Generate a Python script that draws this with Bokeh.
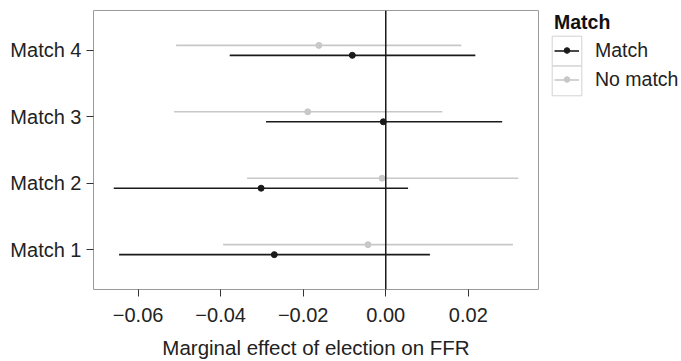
from bokeh.plotting import figure
from bokeh.layouts import row
from bokeh.models import (ColumnDataSource, Range1d, FixedTicker, CustomJSTickFormatter,
                          Span, Legend, LegendItem)
from bokeh.transform import dodge
from bokeh.embed import file_html
from bokeh.resources import INLINE

# ---- data ----
categories = ["Match 1", "Match 2", "Match 3", "Match 4"]
match_est = [-0.0270, -0.0302, -0.0006, -0.0081]
match_lo = [-0.0646, -0.0659, -0.0290, -0.0378]
match_hi = [0.0107, 0.0054, 0.0282, 0.0217]
nomatch_est = [-0.0043, -0.0009, -0.0189, -0.0162]
nomatch_lo = [-0.0394, -0.0336, -0.0513, -0.0508]
nomatch_hi = [0.0308, 0.0321, 0.0137, 0.0183]
x_ticks = [-0.06, -0.04, -0.02, 0.0, 0.02]
series_labels = ["Match", "No match"]
legend_title = "Match"

BLACK = "#1a1a1a"
GRAY = "#c8c8c8"
FONT = "Liberation Sans"
LW = 1.6

ypos = list(range(1, len(categories) + 1))
src_m = ColumnDataSource(dict(y=ypos, est=match_est, lo=match_lo, hi=match_hi))
src_n = ColumnDataSource(dict(y=ypos, est=nomatch_est, lo=nomatch_lo, hi=nomatch_hi))

p = figure(width=540, height=361, x_range=Range1d(-0.0708, 0.037), y_range=Range1d(0.4, 4.6),
           output_backend="svg", toolbar_location=None,
           min_border_left=93, min_border_right=2, min_border_top=10, min_border_bottom=72)
p.background_fill_color = "white"
p.border_fill_color = "white"
p.outline_line_color = "#9a9a9a"
p.outline_line_width = 1
p.xgrid.grid_line_color = None
p.ygrid.grid_line_color = None

off = 0.075
p.segment(x0="lo", y0=dodge("y", off), x1="hi", y1=dodge("y", off), source=src_n,
          line_color=GRAY, line_width=LW)
p.scatter(x="est", y=dodge("y", off), source=src_n, marker="circle", size=6,
          fill_color=GRAY, line_color=GRAY)
p.segment(x0="lo", y0=dodge("y", -off), x1="hi", y1=dodge("y", -off), source=src_m,
          line_color=BLACK, line_width=LW)
p.scatter(x="est", y=dodge("y", -off), source=src_m, marker="circle", size=6,
          fill_color=BLACK, line_color=BLACK)

p.add_layout(Span(location=0, dimension="height", line_color=BLACK, line_width=1.5))

# axes
for ax in (p.xaxis[0], p.yaxis[0]):
    ax.axis_line_color = None
    ax.major_tick_line_color = "#333333"
    ax.major_tick_line_width = 1
    ax.major_tick_out = 7
    ax.major_tick_in = 0
    ax.minor_tick_line_color = None
    ax.major_label_text_font = FONT
    ax.major_label_text_font_size = "20px"
    ax.major_label_text_color = "#222222"

p.xaxis.major_label_standoff = 11
p.yaxis.major_label_standoff = 5
p.xaxis.ticker = FixedTicker(ticks=x_ticks)
p.xaxis.formatter = CustomJSTickFormatter(code="return tick.toFixed(2).replace('-', '\u2212');")
p.xaxis.axis_label = "Marginal effect of election on FFR"
p.xaxis.axis_label_text_font = FONT
p.xaxis.axis_label_text_font_size = "20.5px"
p.xaxis.axis_label_text_font_style = "normal"
p.xaxis.axis_label_text_color = "#222222"
p.xaxis.axis_label_standoff = 11

p.yaxis.ticker = FixedTicker(ticks=ypos)
p.yaxis.major_label_overrides = {y: c for y, c in zip(ypos, categories)}

# ---- legend panel (own canvas; key glyphs come from style-only renderers with no visible point) ----
lg = figure(width=141, height=361, output_backend="svg", toolbar_location=None,
            x_axis_location=None, y_axis_location=None, min_border=0,
            x_range=Range1d(0, 1), y_range=Range1d(0, 1))
lg.outline_line_color = None
lg.background_fill_color = "white"
lg.border_fill_color = "white"
lg.xgrid.grid_line_color = None
lg.ygrid.grid_line_color = None

nan = [float("nan")]
box = lg.quad(left=nan, right=nan, top=nan, bottom=nan, fill_color="white",
              line_color="#d2d2d2", line_width=1)
k_seg_m = lg.segment(x0=nan, y0=nan, x1=nan, y1=nan, line_color=BLACK, line_width=LW)
k_dot_m = lg.scatter(x=nan, y=nan, marker="circle", fill_color=BLACK, line_color=BLACK)
k_seg_n = lg.segment(x0=nan, y0=nan, x1=nan, y1=nan, line_color=GRAY, line_width=LW)
k_dot_n = lg.scatter(x=nan, y=nan, marker="circle", fill_color=GRAY, line_color=GRAY)

common = dict(padding=0, margin=0, border_line_color=None, background_fill_alpha=0)
blank = dict(label_text_font_size="1px", label_text_alpha=0, label_standoff=0)
dy = -2

# key boxes (one legend per box so that the boxes can touch)
box_a = Legend(items=[LegendItem(label=" ", renderers=[box])], location=(8, 222 + dy),
               glyph_width=37, glyph_height=37, label_height=1, **blank, **common)
box_b = Legend(items=[LegendItem(label=" ", renderers=[box])], location=(8, 192 + dy),
               glyph_width=37, glyph_height=37, label_height=1, **blank, **common)
# title, labels and key lines
leg = Legend(items=[LegendItem(label=series_labels[0], renderers=[k_seg_m]),
                    LegendItem(label=series_labels[1], renderers=[k_seg_n])],
             location=(14, 197 + dy), title=legend_title,
             title_text_font=FONT, title_text_font_size="19.5px", title_text_font_style="bold",
             title_text_color="#111111", title_standoff=2,
             label_text_font=FONT, label_text_font_size="19.5px", label_text_color="#222222",
             glyph_width=25, glyph_height=29, spacing=0, label_standoff=16, **common)
# key points
dots = Legend(items=[LegendItem(label=" ", renderers=[k_dot_m]),
                     LegendItem(label=" ", renderers=[k_dot_n])],
              location=(14, 205 + dy), label_height=1,
              glyph_width=25, glyph_height=14, spacing=15, **blank, **common)
for l in (box_a, box_b, leg, dots):
    lg.add_layout(l)

layout = row(p, lg, spacing=0)
open("out.html", "w").write(file_html(layout, INLINE))
